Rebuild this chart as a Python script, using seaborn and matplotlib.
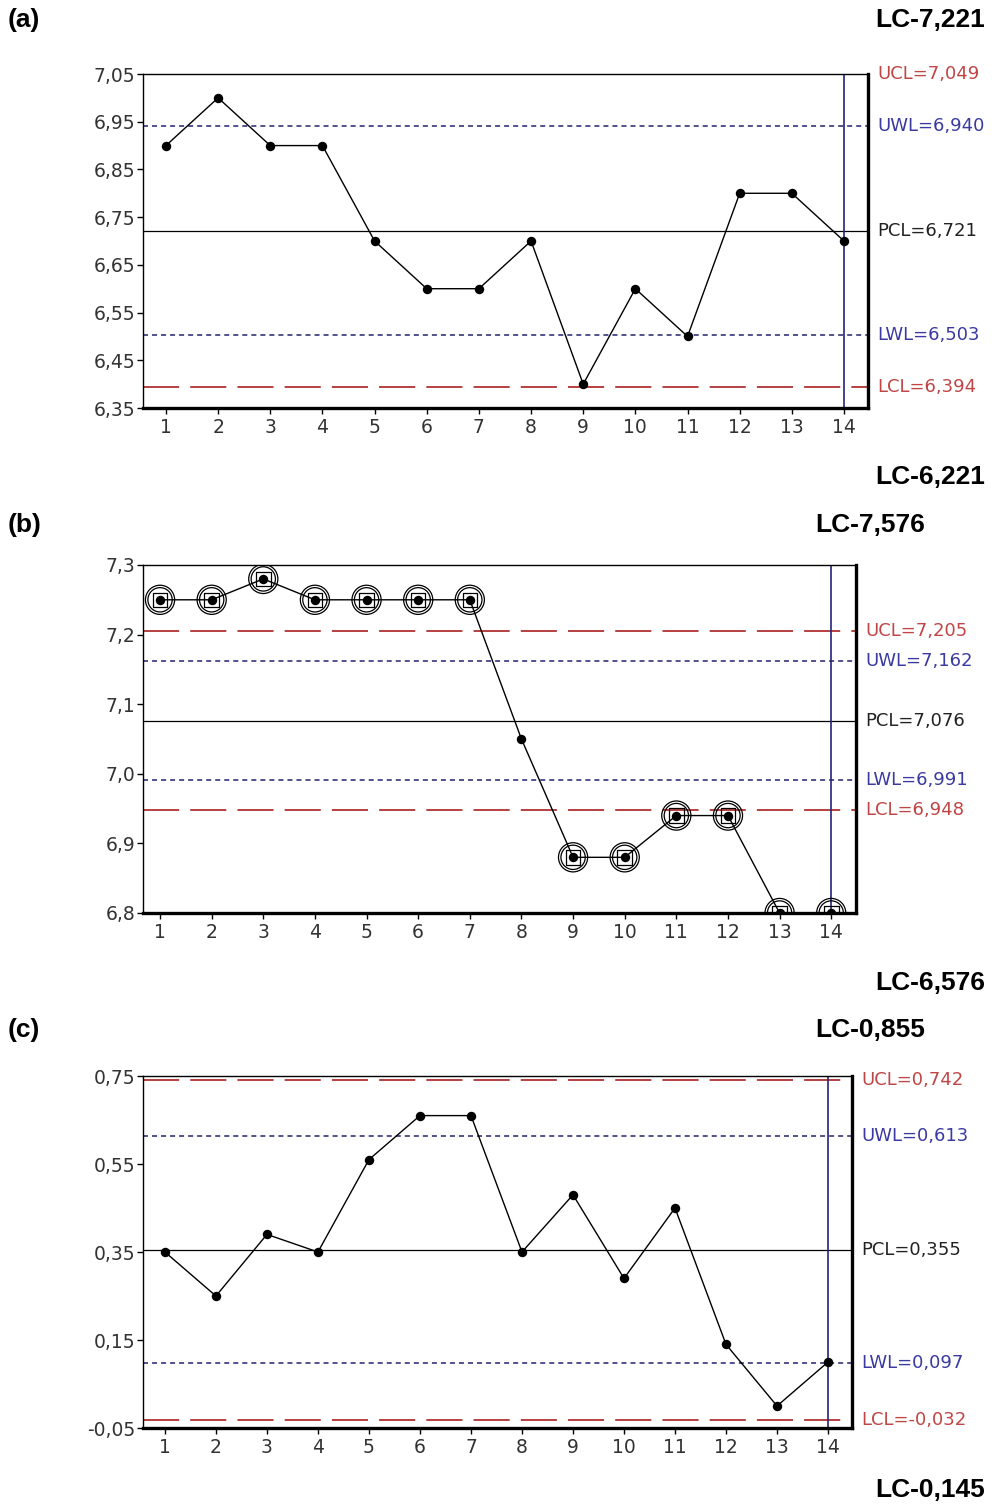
import matplotlib
matplotlib.use("Agg")
import matplotlib.pyplot as plt
import seaborn as sns
import pandas as pd
import numpy as np

sns.set_theme(style="white")
plt.rcParams['font.family'] = ['DejaVu Sans']
plt.rcParams['lines.scale_dashes'] = False

samples = list(range(1, 15))

# Panel (a)
vals_a = [6.90, 7.00, 6.90, 6.90, 6.70, 6.60, 6.60, 6.70, 6.40, 6.60, 6.50, 6.80, 6.80, 6.70]
lims_a = {"UCL": 7.049, "UWL": 6.940, "PCL": 6.721, "LWL": 6.503, "LCL": 6.394}
labels_a = {"UCL": "UCL=7,049", "UWL": "UWL=6,940", "PCL": "PCL=6,721", "LWL": "LWL=6,503", "LCL": "LCL=6,394"}
yticks_a = [6.35, 6.45, 6.55, 6.65, 6.75, 6.85, 6.95, 7.05]
yticklabels_a = ["6,35", "6,45", "6,55", "6,65", "6,75", "6,85", "6,95", "7,05"]
flag_a = [False] * 14

# Panel (b)
vals_b = [7.25, 7.25, 7.28, 7.25, 7.25, 7.25, 7.25, 7.05, 6.88, 6.88, 6.94, 6.94, 6.80, 6.80]
lims_b = {"UCL": 7.205, "UWL": 7.162, "PCL": 7.076, "LWL": 6.991, "LCL": 6.948}
labels_b = {"UCL": "UCL=7,205", "UWL": "UWL=7,162", "PCL": "PCL=7,076", "LWL": "LWL=6,991", "LCL": "LCL=6,948"}
yticks_b = [6.8, 6.9, 7.0, 7.1, 7.2, 7.3]
yticklabels_b = ["6,8", "6,9", "7,0", "7,1", "7,2", "7,3"]
flag_b = [True] * 7 + [False] + [True] * 6

# Panel (c)
vals_c = [0.35, 0.25, 0.39, 0.35, 0.56, 0.66, 0.66, 0.35, 0.48, 0.29, 0.45, 0.14, 0.00, 0.10]
lims_c = {"UCL": 0.742, "UWL": 0.613, "PCL": 0.355, "LWL": 0.097, "LCL": -0.032}
labels_c = {"UCL": "UCL=0,742", "UWL": "UWL=0,613", "PCL": "PCL=0,355", "LWL": "LWL=0,097", "LCL": "LCL=-0,032"}
yticks_c = [-0.05, 0.15, 0.35, 0.55, 0.75]
yticklabels_c = ["-0,05", "0,15", "0,35", "0,55", "0,75"]
flag_c = [False] * 14

RED = "#b03232"
BLUE = "#23236e"
TXT_RED = "#c04545"
TXT_BLUE = "#3a3aa0"
VLINE = "#25257a"

line_style = {
    "UCL": dict(color=RED, lw=1.3, dashes=(26, 8)),
    "LCL": dict(color=RED, lw=1.3, dashes=(26, 8)),
    "UWL": dict(color=BLUE, lw=1.1, dashes=(3.6, 2.9)),
    "LWL": dict(color=BLUE, lw=1.1, dashes=(3.6, 2.9)),
    "PCL": dict(color="black", lw=0.9, dashes=()),
}
text_color = {"UCL": TXT_RED, "LCL": TXT_RED, "UWL": TXT_BLUE, "LWL": TXT_BLUE, "PCL": "#222222"}

W, H = 992, 1510
fig = plt.figure(figsize=(W / 100, H / 100), dpi=100)

panels = [
    (vals_a, lims_a, labels_a, yticks_a, yticklabels_a, flag_a, (143, 74, 868, 408), (0.56, 14.46)),
    (vals_b, lims_b, labels_b, yticks_b, yticklabels_b, flag_b, (143, 565, 856, 913), (0.67, 14.48)),
    (vals_c, lims_c, labels_c, yticks_c, yticklabels_c, flag_c, (143, 1076, 852, 1428), (0.57, 14.47)),
]

for vals, lims, labels, yt, ytl, flags, (x0, y0, x1, y1), xlim in panels:
    ax = fig.add_axes([x0 / W, 1 - y1 / H, (x1 - x0) / W, (y1 - y0) / H])
    df = pd.DataFrame({"sample": samples, "value": vals, "flag": flags})
    for key in ["UCL", "UWL", "PCL", "LWL", "LCL"]:
        st = line_style[key]
        ln = ax.axhline(lims[key], color=st["color"], lw=st["lw"], zorder=1)
        if st["dashes"]:
            ln.set_dashes(st["dashes"])
        ax.annotate(labels[key], xy=(1, lims[key]), xycoords=("axes fraction", "data"),
                    xytext=(6.5, 0), textcoords="offset points", va="center", ha="left",
                    fontsize=13, color=text_color[key], annotation_clip=False)
    ax.axvline(14, color=VLINE, lw=1.2, zorder=2)
    sns.lineplot(data=df, x="sample", y="value", color="black", lw=1.0, ax=ax, zorder=3)
    fl = df[df["flag"]]
    if len(fl):
        sns.scatterplot(data=fl, x="sample", y="value", marker="o", s=21 ** 2, facecolor="none",
                        edgecolor="black", linewidth=0.9, ax=ax, zorder=4)
        sns.scatterplot(data=fl, x="sample", y="value", marker="o", s=17.5 ** 2, facecolor="none",
                        edgecolor="black", linewidth=0.9, ax=ax, zorder=4)
        sns.scatterplot(data=fl, x="sample", y="value", marker="s", s=10.5 ** 2, facecolor="none",
                        edgecolor="black", linewidth=0.9, ax=ax, zorder=4)
    sns.scatterplot(data=df, x="sample", y="value", marker="o", s=6.8 ** 2, color="black",
                    edgecolor="black", linewidth=0, ax=ax, zorder=5)
    ax.set_xlim(*xlim)
    ax.set_ylim(yt[0], yt[-1])
    ax.set_xticks(samples)
    ax.set_xticklabels([str(s) for s in samples])
    ax.set_yticks(yt)
    ax.set_yticklabels(ytl)
    ax.set_xlabel("")
    ax.set_ylabel("")
    ax.tick_params(axis="both", direction="out", length=4, width=1, color="black",
                   labelsize=13.5, labelcolor="#333333", pad=3, bottom=True, left=True)
    ax.tick_params(axis="y", pad=1.5)
    ax.set_facecolor("white")
    for side, lw in [("top", 1.0), ("left", 1.0), ("right", 2.4), ("bottom", 2.4)]:
        ax.spines[side].set_visible(True)
        ax.spines[side].set_color("black")
        ax.spines[side].set_linewidth(lw)
        ax.spines[side].set_zorder(6)

bold = dict(fontsize=19, fontweight="bold", family=["Liberation Sans", "DejaVu Sans"], color="black", va="center")
texts = [
    ("(a)", 8, 20, "left"), ("LC-7,221", 985, 20, "right"), ("LC-6,221", 985, 477, "right"),
    ("(b)", 8, 525, "left"), ("LC-7,576", 925, 525, "right"), ("LC-6,576", 985, 983, "right"),
    ("(c)", 8, 1030, "left"), ("LC-0,855", 925, 1030, "right"), ("LC-0,145", 985, 1490, "right"),
]
for t, x, y, ha in texts:
    fig.text(x / W, 1 - y / H, t, ha=ha, **bold)

fig.savefig("out.png", dpi=100, facecolor="white")
